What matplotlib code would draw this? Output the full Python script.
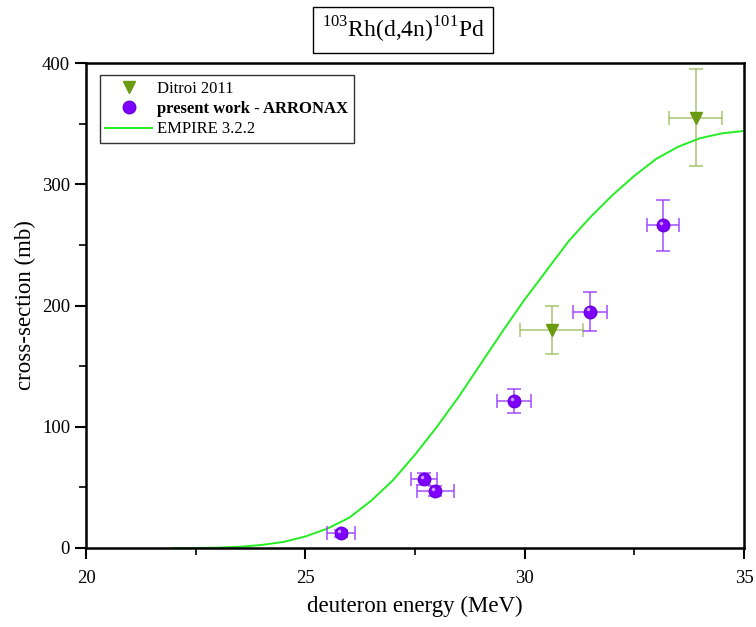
import matplotlib
matplotlib.use("Agg")
import matplotlib.pyplot as plt
import matplotlib.transforms as mtransforms
from matplotlib.ticker import MultipleLocator

plt.rcParams['font.family'] = ['Liberation Serif', 'DejaVu Serif']
plt.rcParams['mathtext.fontset'] = 'custom'
plt.rcParams['mathtext.rm'] = 'Liberation Serif'

# Ditroi 2011
ditroi_E = [30.62, 33.90]
ditroi_dE = [0.72, 0.60]
ditroi_xs = [180, 355]
ditroi_dxs = [20, 40]

# present work - ARRONAX
arr_E = [25.81, 27.70, 27.96, 29.76, 31.49, 33.15]
arr_dE = [0.32, 0.30, 0.42, 0.39, 0.38, 0.36]
arr_xs = [12, 57, 47, 121, 195, 266]
arr_dxs = [3, 5, 4, 10, 16, 21]

# EMPIRE 3.2.2
emp_E = [22.0, 22.5, 23.0, 23.5, 24.0, 24.5, 25.0, 25.5, 26.0, 26.5, 27.0, 27.5,
         28.0, 28.5, 29.0, 29.5, 30.0, 30.5, 31.0, 31.5, 32.0, 32.5, 33.0,
         33.5, 34.0, 34.5, 35.0]
emp_xs = [0, 0, 0.3, 1, 2.5, 5, 9.5, 16, 25, 39, 56, 77,
          100, 125, 152, 179, 205, 229, 253, 273, 291, 307, 321,
          331, 338, 342, 344]

fig = plt.figure(figsize=(7.56, 6.27), dpi=100)
ax = fig.add_axes([0.1138, 0.126, 0.8704, 0.7735])

ax.plot(emp_E, emp_xs, color='#22ee22', lw=1.4, label='EMPIRE 3.2.2', zorder=2)

ax.errorbar(ditroi_E, ditroi_xs, xerr=ditroi_dE, yerr=ditroi_dxs, fmt='none',
            ecolor='#7aa82a', elinewidth=1.2, capsize=5, capthick=1.2, alpha=0.6, zorder=3)
ax.plot(ditroi_E, ditroi_xs, linestyle='none', marker='v', color='#6a9a10',
        markersize=8, label='Ditroi 2011', zorder=4)

ax.errorbar(arr_E, arr_xs, xerr=arr_dE, yerr=arr_dxs, fmt='none',
            ecolor='#9b3dff', elinewidth=1.2, capsize=5, capthick=1.2, alpha=0.85, zorder=3)
ax.plot(arr_E, arr_xs, linestyle='none', marker='o', color='#7f00ff',
        markeredgecolor='#6a00dd', markersize=9, label='present work - ARRONAX', zorder=5)
ax.plot(arr_E, arr_xs, linestyle='none', marker='o', color='#c9a0ff',
        markersize=2.5, markeredgewidth=0, zorder=6,
        transform=ax.transData + mtransforms.ScaledTranslation(-1.5/72, 1.5/72, fig.dpi_scale_trans))

ax.set_xlim(20, 35)
ax.set_ylim(0, 400)
ax.xaxis.set_major_locator(MultipleLocator(5))
ax.xaxis.set_minor_locator(MultipleLocator(2.5))
ax.yaxis.set_major_locator(MultipleLocator(100))
ax.yaxis.set_minor_locator(MultipleLocator(50))
ax.tick_params(which='major', direction='out', length=8, width=1.5, labelsize=13.5)
ax.tick_params(axis='x', which='major', pad=8)
ax.tick_params(which='minor', direction='out', length=5, width=1.2)
for s in ax.spines.values():
    s.set_linewidth(1.8)

ax.set_xlabel('deuteron energy (MeV)', fontsize=16.5, labelpad=6)
ax.set_ylabel('cross-section (mb)', fontsize=16.5, labelpad=4)

handles, labels = ax.get_legend_handles_labels()
order = [labels.index('Ditroi 2011'), labels.index('present work - ARRONAX'), labels.index('EMPIRE 3.2.2')]
leg = ax.legend([handles[i] for i in order], [labels[i] for i in order],
                loc='upper left', bbox_to_anchor=(0.013, 0.985), fontsize=12,
                frameon=True, fancybox=False, edgecolor='black', borderpad=0.35,
                handlelength=2.8, handletextpad=0.3, labelspacing=0.25, borderaxespad=0.3)
leg.get_frame().set_linewidth(1.0)
for t in leg.get_texts():
    if t.get_text() == 'present work - ARRONAX':
        t.set_fontweight('bold')

fig.text(0.533, 0.952, r'$^{103}$Rh(d,4n)$^{101}$Pd', ha='center', va='center', fontsize=17,
         bbox=dict(boxstyle='square,pad=0.35', facecolor='white', edgecolor='black', linewidth=1.0))

fig.savefig('out.png', dpi=100)
